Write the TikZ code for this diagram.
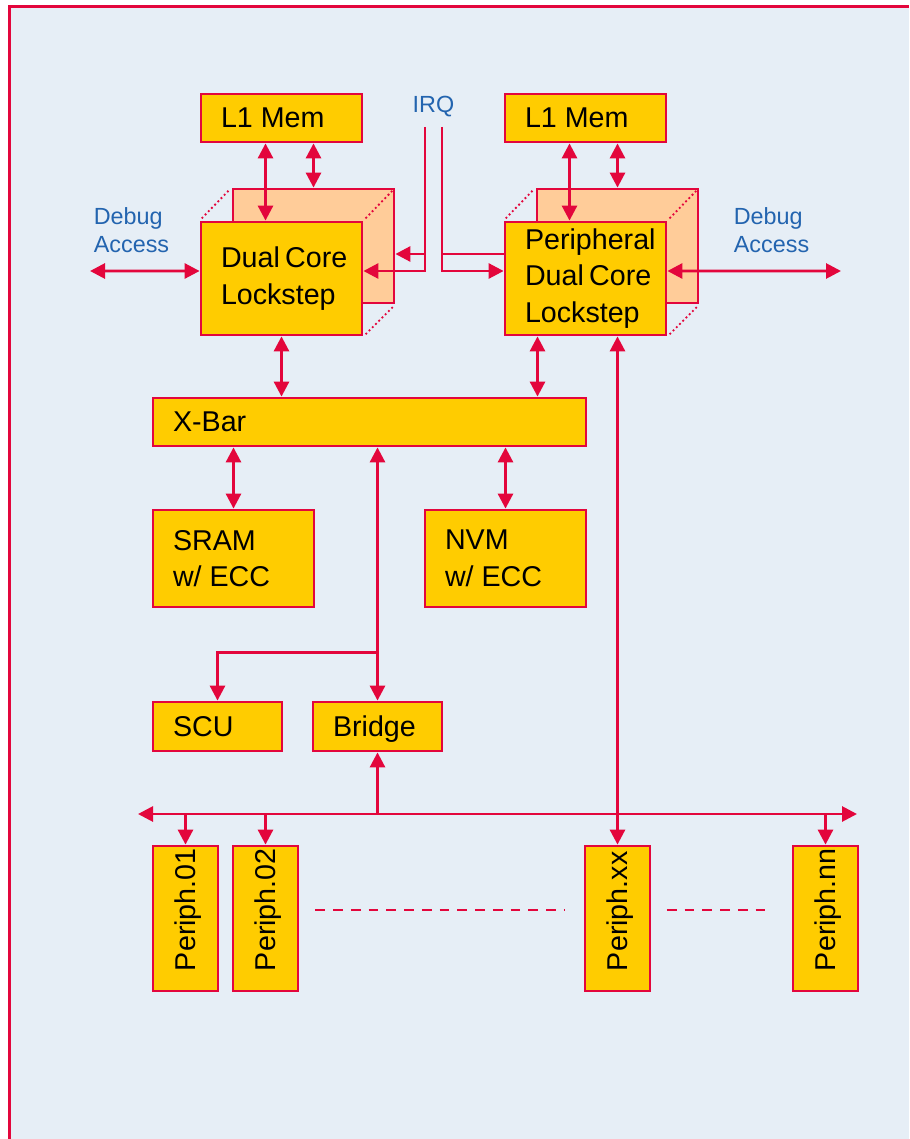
\documentclass[tikz,border=0pt]{standalone}
\usepackage{fontspec}
\setmainfont{Liberation Sans}
\usepackage{xcolor}
\usepackage{tikz}
\usetikzlibrary{arrows.meta}
\definecolor{chipred}{RGB}{227,6,60}
\definecolor{blockyellow}{RGB}{255,204,0}
\definecolor{shadowpeach}{RGB}{255,204,153}
\definecolor{panelblue}{RGB}{230,238,246}
\definecolor{labelblue}{RGB}{35,100,175}
\hfuzz=2cm

\begin{document}
\begin{tikzpicture}[
    every node/.style={font=\fontsize{16.3}{20.8}\selectfont},
    blk/.style={draw=chipred, fill=blockyellow, line width=1.6pt, inner xsep=0.4cm, inner ysep=0pt, align=flush left},
    oneline/.style={blk, text depth=0pt},
    ghost/.style={draw=chipred, fill=shadowpeach, line width=1.6pt},
    wire/.style={draw=chipred, line width=1.6pt},
    link/.style={wire, -{Triangle[length=0.3cm,width=0.3cm]}},
    bilink/.style={wire, {Triangle[length=0.3cm,width=0.3cm]}-{Triangle[length=0.3cm,width=0.3cm]}},
    cubeline/.style={draw=chipred, line width=1.5pt, line cap=round, dash pattern=on 0pt off 2.6pt, shorten <=0.08cm, shorten >=0.08cm},
    dashline/.style={draw=chipred, line width=1.6pt, dash pattern=on 5.5pt off 4.6pt},
    note/.style={font=\fontsize{13.3}{15.7}\selectfont, text=labelblue, inner sep=0pt, align=left}
]
% panel
\useasboundingbox (0,0) rectangle (18.18,-22.78);
\fill[white] (0,0) rectangle (18.18,-22.78);
\fill[panelblue] (0.19,-0.13) rectangle (18.18,-22.78);
\draw[chipred, line width=1.7pt] (0.19,-22.78) -- (0.19,-0.13) -- (18.18,-0.13);

% cores with their shadow boxes
\node[ghost, minimum width=3.22cm, minimum height=2.28cm] (coreAb) at (6.27,-4.92) {};
\node[ghost, minimum width=3.22cm, minimum height=2.28cm] (coreBb) at (12.35,-4.92) {};
\node[blk, minimum width=3.22cm, minimum height=2.26cm, text width=2.42cm] (coreAf) at (5.63,-5.57) {Dual~Core\\Lockstep};
\node[blk, minimum width=3.22cm, minimum height=2.26cm, text width=2.42cm] (coreBf) at (11.71,-5.57) {Peripheral\\Dual~Core\\Lockstep};
\draw[cubeline] (coreAf.north west) -- (coreAb.north west);
\draw[cubeline] (coreAf.north east) -- (coreAb.north east);
\draw[cubeline] (coreAf.south east) -- (coreAb.south east);
\draw[cubeline] (coreBf.north west) -- (coreBb.north west);
\draw[cubeline] (coreBf.north east) -- (coreBb.north east);
\draw[cubeline] (coreBf.south east) -- (coreBb.south east);

% memories and bus blocks
\node[oneline, minimum width=3.22cm, minimum height=0.96cm, text width=2.42cm] (memA) at (5.63,-2.36) {L1~Mem};
\node[oneline, minimum width=3.22cm, minimum height=0.96cm, text width=2.42cm] (memB) at (11.71,-2.36) {L1~Mem};
\node[oneline, minimum width=8.66cm, minimum height=0.96cm, text width=7.86cm] (xbar) at (7.39,-8.44) {X-Bar};
\node[blk, minimum width=3.22cm, minimum height=1.94cm, text width=2.42cm] (sram) at (4.67,-11.17) {SRAM\\w/~ECC};
\node[blk, minimum width=3.22cm, minimum height=1.94cm, text width=2.42cm] (nvm) at (10.11,-11.17) {NVM\\w/~ECC};
\node[oneline, minimum width=2.58cm, minimum height=0.98cm, text width=1.78cm] (scu) at (4.35,-14.53) {SCU};
\node[oneline, minimum width=2.58cm, minimum height=0.98cm, text width=1.78cm] (bridge) at (7.55,-14.53) {Bridge};

% peripherals
\node[oneline, rotate=90, minimum width=2.90cm, minimum height=1.30cm, text width=2.10cm] (p01) at (3.71,-18.37) {Periph.01};
\node[oneline, rotate=90, minimum width=2.90cm, minimum height=1.30cm, text width=2.10cm] (p02) at (5.31,-18.37) {Periph.02};
\node[oneline, rotate=90, minimum width=2.90cm, minimum height=1.30cm, text width=2.10cm] (pxx) at (12.35,-18.37) {Periph.xx};
\node[oneline, rotate=90, minimum width=2.90cm, minimum height=1.30cm, text width=2.10cm] (pnn) at (16.51,-18.37) {Periph.nn};

% labels
\node[note, anchor=north west] (dbgAtxt) at (1.87,-4.15) {Debug\\Access};
\node[note, anchor=north west] (dbgBtxt) at (14.67,-4.15) {Debug\\Access};
\node[note, anchor=base] (irq) at (8.67,-2.25) {IRQ};

% free ends
\coordinate (dbgA) at (1.80,-5.42);
\coordinate (dbgB) at (16.82,-5.42);
\coordinate (irqA) at (8.50,-2.54);
\coordinate (irqB) at (8.84,-2.54);
\coordinate (irqAb) at (8.50,-5.08);
\coordinate (irqBb) at (8.84,-5.08);
\coordinate (busL) at (2.76,-16.28);
\coordinate (busR) at (17.14,-16.28);
\coordinate (cbx) at ([xshift=-0.96cm]coreBf.south);
\coordinate (jn) at ([yshift=0.96cm]bridge.north);

% L1 memory links
\draw[bilink] ([xshift=-0.32cm]memA.south) -- ([xshift=-0.32cm]coreAf.north);
\draw[bilink] (coreAb.north |- memA.south) -- (coreAb.north);
\draw[bilink] ([xshift=-0.32cm]memB.south) -- ([xshift=-0.32cm]coreBf.north);
\draw[bilink] (coreBb.north |- memB.south) -- (coreBb.north);

% debug and IRQ
\draw[bilink] (dbgA) -- ([yshift=0.15cm]coreAf.west);
\draw[bilink] ([yshift=0.15cm]coreBf.east) -- (dbgB);
\draw[link] (irqA) |- ([yshift=0.15cm]coreAf.east);
\draw[link] (irqAb) -- (irqAb -| coreAb.east);
\draw[link] (irqB) |- ([yshift=0.15cm]coreBf.west);
\draw[wire] (irqBb) -- (irqBb -| coreBf.west);

% cross bar
\draw[bilink] (coreAf.south) -- (coreAf.south |- xbar.north);
\draw[bilink] (cbx) -- (cbx |- xbar.north);
\draw[bilink] (sram.north) -- (sram.north |- xbar.south);
\draw[bilink] (nvm.north) -- (nvm.north |- xbar.south);
\draw[bilink] (bridge.north) -- (bridge.north |- xbar.south);
\draw[link] (jn) -| (scu.north);

% peripheral bus
\draw[bilink] (busL) -- (busR);
\draw[link] (bridge.south |- busL) -- (bridge.south);
\draw[link] (p01.east |- busL) -- (p01.east);
\draw[link] (p02.east |- busL) -- (p02.east);
\draw[link] (pnn.east |- busL) -- (pnn.east);
\draw[bilink] (pxx.east) -- (pxx.east |- coreBf.south);
\draw[dashline, shorten <=0.32cm, shorten >=0.37cm] ([yshift=0.17cm]p02.south) -- ([yshift=0.17cm]pxx.north);
\draw[dashline, shorten <=0.31cm, shorten >=0.47cm] ([yshift=0.17cm]pxx.south) -- ([yshift=0.17cm]pnn.north);
\end{tikzpicture}
\end{document}
